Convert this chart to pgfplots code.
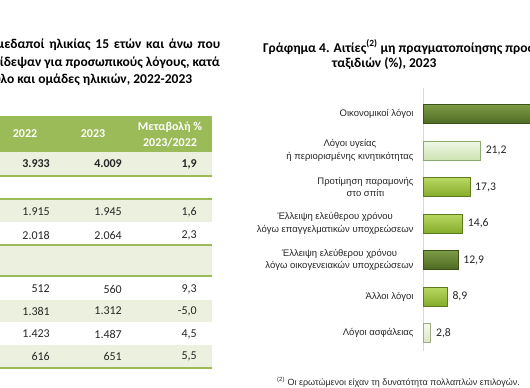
\documentclass[border=0pt]{standalone}
\usepackage{fontspec}
\setmainfont{Carlito}
\newfontfamily\arialf{Liberation Sans}
\usepackage{pgfplots}
\pgfplotsset{compat=1.18}
\definecolor{hdr}{HTML}{9BBB59}
\definecolor{band}{HTML}{EBF1DE}
\definecolor{txt}{HTML}{262626}
\definecolor{dkT}{HTML}{7C9B46}
\definecolor{dkB}{HTML}{4E6A22}
\definecolor{dkD}{HTML}{3C5218}
\definecolor{ygT}{HTML}{B9D862}
\definecolor{ygB}{HTML}{85AC2A}
\definecolor{ygD}{HTML}{5E7C1E}
\definecolor{ltT}{HTML}{F0F7E6}
\definecolor{ltB}{HTML}{CDE3B2}
\definecolor{ltD}{HTML}{8FAA70}
\definecolor{paT}{HTML}{F6F8EF}
\definecolor{paB}{HTML}{DCE5C8}
\definecolor{paD}{HTML}{A0AE86}
\begin{document}
\begin{tikzpicture}
\useasboundingbox (0,0) rectangle (530pt,-388pt);
\clip (0,0) rectangle (530pt,-388pt);
\begin{scope}[x=1pt,y=-1pt]
% ---- left table (cropped) ----
\fill[hdr] (-5,116) rectangle (212,152);
\fill[band] (-5,152) rectangle (212,176);
\fill[band] (-5,200) rectangle (212,222);
\fill[band] (-5,246) rectangle (212,276);
\fill[band] (-5,300) rectangle (212,322);
\fill[band] (-5,345) rectangle (212,368);
\foreach \yy in {176,199,245,276,368}
  \draw[hdr, line width=1.4pt] (-5,\yy) -- (212,\yy);
\begin{scope}[every node/.style={font=\fontsize{12}{14}\selectfont, text=txt, inner sep=0pt}]
\node[text=white, font=\bfseries\fontsize{12}{14}\selectfont] at (25,134) {2022};
\node[text=white, font=\bfseries\fontsize{12}{14}\selectfont] at (93,134) {2023};
\node[text=white, font=\bfseries\fontsize{12}{16}\selectfont, align=center] at (170,134) {Μεταβολή \%\\2023/2022};
\node[anchor=east, font=\bfseries\fontsize{12}{14}\selectfont] at (50,164) {3.933};
\node[anchor=east, font=\bfseries\fontsize{12}{14}\selectfont] at (122,164) {4.009};
\node[anchor=east, font=\bfseries\fontsize{12}{14}\selectfont] at (197,164) {1,9};
\node[anchor=east] at (50,212) {1.915};
\node[anchor=east] at (122,212) {1.945};
\node[anchor=east] at (197,212) {1,6};
\node[anchor=east] at (50,235) {2.018};
\node[anchor=east] at (122,235) {2.064};
\node[anchor=east] at (197,235) {2,3};
\node[anchor=east] at (50,289) {512};
\node[anchor=east] at (122,289) {560};
\node[anchor=east] at (197,289) {9,3};
\node[anchor=east] at (50,311) {1.381};
\node[anchor=east] at (122,311) {1.312};
\node[anchor=east] at (197,311) {-5,0};
\node[anchor=east] at (50,334) {1.423};
\node[anchor=east] at (122,334) {1.487};
\node[anchor=east] at (197,334) {4,5};
\node[anchor=east] at (50,356) {616};
\node[anchor=east] at (122,356) {651};
\node[anchor=east] at (197,356) {5,5};
\end{scope}
% ---- titles ----
\begin{scope}[every node/.style={font=\bfseries\fontsize{13.5}{16}\selectfont, text=black, inner sep=0pt}]
\node[anchor=west] at (-12,45) {\makebox[232pt][s]{Ημεδαποί ηλικίας 15 ετών και άνω που}};
\node[anchor=east] at (220,63) {ταξίδεψαν για προσωπικούς λόγους, κατά};
\node[anchor=west] at (-16,80) {φύλο και ομάδες ηλικιών, 2022-2023};
\node[anchor=west] at (263,47) {Γράφημα 4. Αιτίες\textsuperscript{(2)} μη πραγματοποίησης προσωπικών};
\node[anchor=west] at (332,64) {ταξιδιών (\%), 2023};
\end{scope}
\node[anchor=west, inner sep=0pt, font=\arialf\fontsize{9}{10}\selectfont, text=txt] at (277,382) {\textsuperscript{(2)} Οι ερωτώμενοι είχαν τη δυνατότητα πολλαπλών επιλογών.};
\end{scope}
% ---- bar chart ----
\begin{axis}[
  at={(423pt,-95.75pt)}, anchor=north west,
  scale only axis, width=135pt, height=255.5pt,
  xmin=0, xmax=50, ymin=-0.5, ymax=6.5, y dir=reverse,
  xbar, bar width=19pt, bar shift=0pt,
  axis x line=none, axis y line*=left,
  y axis line style={draw=black!15, line width=0.8pt, shorten <=-8pt},
  xtick=\empty, ytick={0,1,2,3,4,5,6},
  major tick length=0pt,
  yticklabels={Οικονομικοί λόγοι,{Λόγοι υγείας\\ή περιορισμένης κινητικότητας},{Προτίμηση παραμονής\\στο σπίτι},{Έλλειψη ελεύθερου χρόνου\\λόγω επαγγελματικών υποχρεώσεων},{Έλλειψη ελεύθερου χρόνου\\λόγω οικογενειακών υποχρεώσεων},Άλλοι λόγοι,Λόγοι ασφάλειας},
  yticklabel style={font=\arialf\fontsize{9.5}{12.5}\selectfont, align=center, text=txt, xshift=-6pt},
  clip=false,
  nodes near coords,
  nodes near coords style={font=\fontsize{11.7}{13}\selectfont, text=txt, anchor=west, xshift=2pt},
  /pgf/number format/.cd, use comma, fixed, fixed zerofill, precision=1, assume math mode=true,
]
\addplot[top color=dkT, bottom color=dkB, draw=dkD] coordinates {(52.4,0)};
\addplot[top color=ltT, bottom color=ltB, draw=ltD] coordinates {(21.2,1)};
\addplot[top color=ygT, bottom color=ygB, draw=ygD] coordinates {(17.3,2)};
\addplot[top color=ygT, bottom color=ygB, draw=ygD] coordinates {(14.6,3)};
\addplot[top color=dkT, bottom color=dkB, draw=dkD] coordinates {(12.9,4)};
\addplot[top color=ygT, bottom color=ygB, draw=ygD] coordinates {(8.9,5)};
\addplot[top color=paT, bottom color=paB, draw=paD] coordinates {(2.8,6)};
\end{axis}
\end{tikzpicture}
\end{document}
